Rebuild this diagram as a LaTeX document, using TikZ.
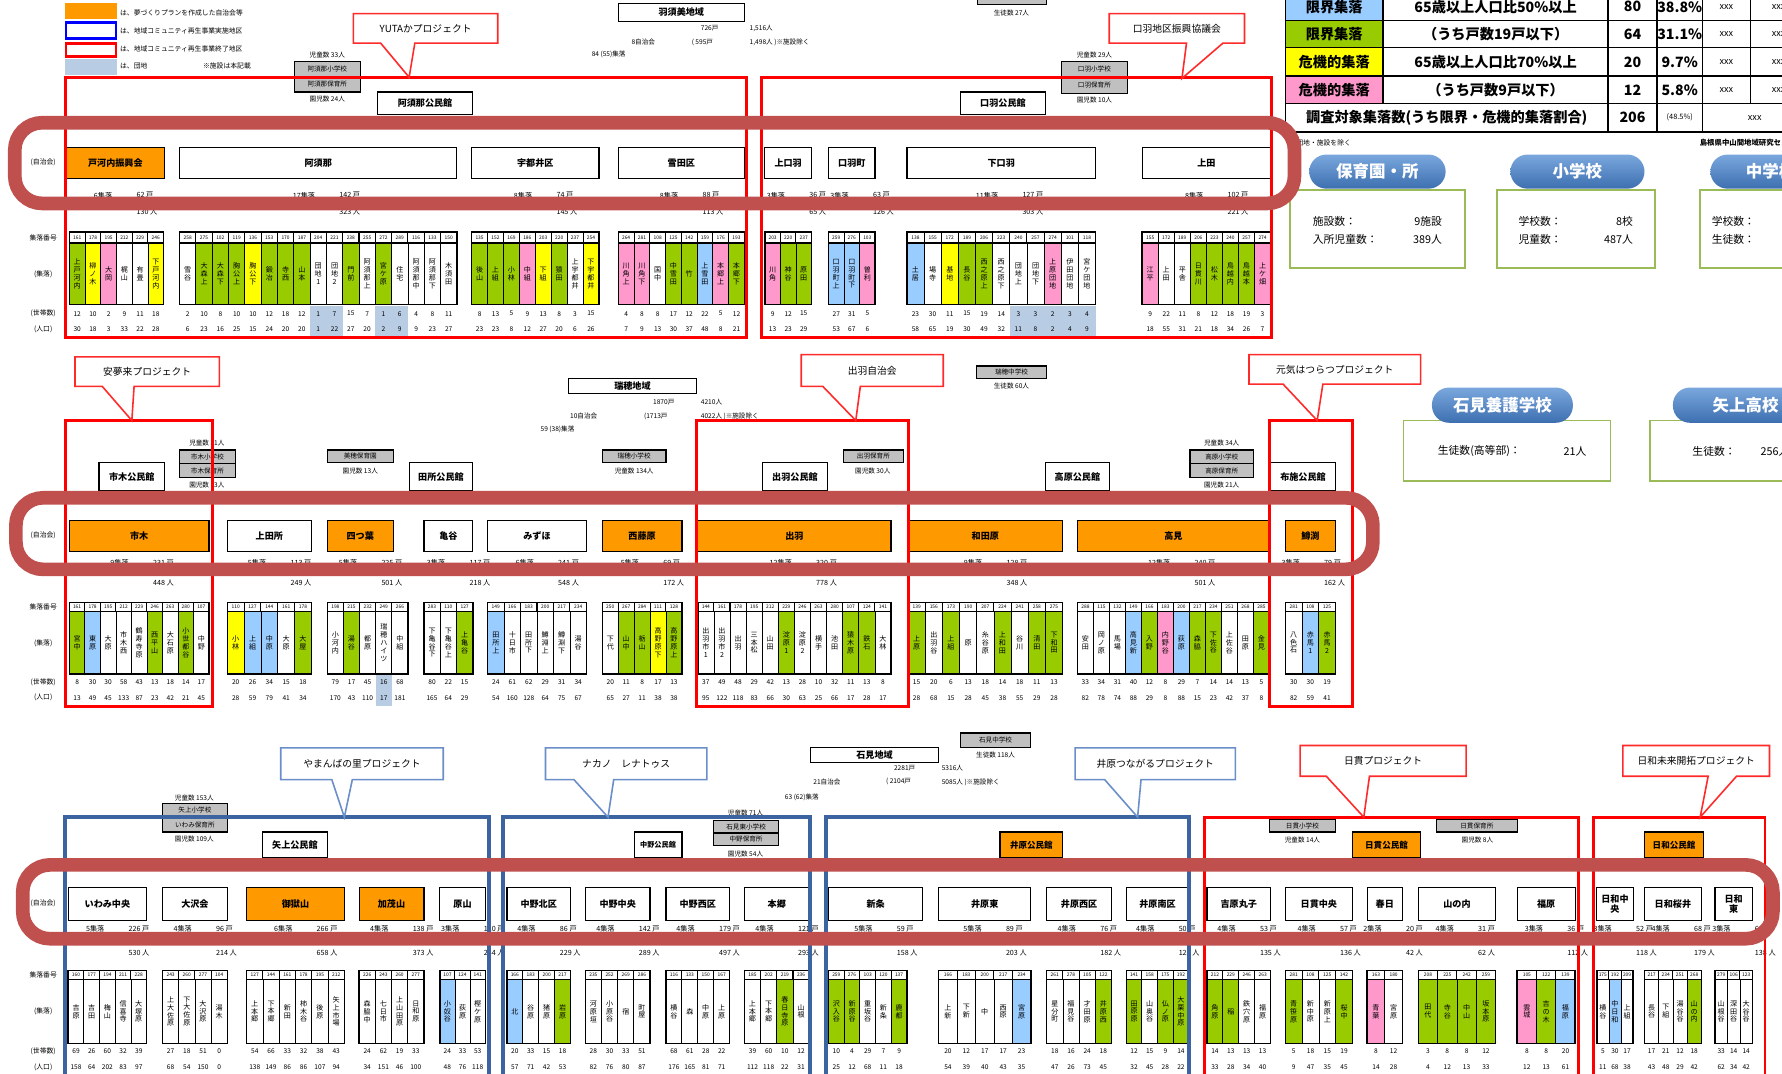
\documentclass[tikz,border=0pt]{standalone}
\usepackage{fontspec}
\setmainfont{Noto Sans CJK JP}
\usetikzlibrary{backgrounds}
\XeTeXlinebreaklocale "ja"
\XeTeXlinebreakskip=0pt plus 1pt
\definecolor{cOr}{HTML}{FF9900}
\definecolor{barG}{HTML}{99CC00}
\definecolor{barY}{HTML}{FFFF00}
\definecolor{barP}{HTML}{FF99CC}
\definecolor{barB}{HTML}{99CCFF}
\definecolor{barH}{HTML}{99CC00}
\definecolor{barQ}{HTML}{FF99CC}
\colorlet{barW}{white}
\colorlet{barD}{white}
\definecolor{numLB}{HTML}{B8CCE4}
\colorlet{numG}{white}\colorlet{numY}{white}\colorlet{numP}{white}
\colorlet{numB}{white}\colorlet{numW}{white}
\colorlet{numD}{numLB}\colorlet{numH}{numLB}\colorlet{numQ}{numLB}
\definecolor{hl}{HTML}{C0504D}
\definecolor{fbl}{HTML}{3B64A0}
\definecolor{cbl}{HTML}{6A8FC8}
\definecolor{cred}{HTML}{FF2A2A}
\definecolor{pillT}{HTML}{7AA7DD}
\definecolor{pillB}{HTML}{3D6FB0}
\definecolor{gbox}{HTML}{9BBB59}
\definecolor{schg}{HTML}{C0C0C0}
\tikzset{
 jw/.style={draw, line width=1.1pt, fill=white, inner sep=1pt, align=center, font=\bfseries\fontsize{8}{9}\selectfont},
 jo/.style={jw, fill=cOr},
 ks/.style={jw, font=\bfseries\fontsize{6.3}{7}\selectfont},
 ko/.style={jo, font=\bfseries\fontsize{7.5}{8}\selectfont},
 sch/.style={draw, line width=1.1pt, fill=schg, inner sep=0pt, font=\fontsize{5.8}{6}\selectfont},
 sm/.style={inner sep=0.5pt, font=\fontsize{5.8}{6}\selectfont},
 lab/.style={inner sep=0.5pt, font=\fontsize{6}{6}\selectfont},
 hdr/.style={inner sep=0pt, font=\fontsize{4.3}{4.3}\selectfont},
 vt/.style={inner sep=0pt, text width=6.6pt, align=center, font=\fontsize{6.2}{6.9}\selectfont},
 num/.style={inner sep=0pt, font=\fontsize{5.8}{6}\selectfont},
 cnt/.style={inner sep=0.5pt, font=\fontsize{6.3}{6.5}\selectfont},
 ln/.style={line width=1pt},
 tg/.style={draw=gray!60, line width=0.6pt, dash pattern=on 2pt off 1pt},
 fr/.style={draw=red, line width=2.6pt},
 fb/.style={draw=fbl, line width=3.5pt},
 cor/.style={draw=cred, line width=1.4pt, fill=white},
 cob/.style={draw=cbl, line width=1.4pt, fill=white},
 cot/.style={inner sep=0pt, font=\fontsize{8.6}{9}\selectfont},
 hlt/.style={draw=hl, line width=12pt, rounded corners=24pt},
 tcl/.style={draw, line width=1.2pt, inner sep=0pt, font=\bfseries\fontsize{12.5}{13}\selectfont},
 tcs/.style={tcl, font=\fontsize{8}{8}\selectfont},
 gb/.style={draw=gbox, line width=1.6pt, fill=white},
 pill/.style={rounded corners=15pt, top color=pillT, bottom color=pillB, draw=none, text=white, inner sep=0pt, font=\bfseries\fontsize{14.5}{15}\selectfont},
 gt/.style={inner sep=0pt, font=\fontsize{9.5}{10}\selectfont},
}
\def\hTa{204}\def\hBa{214}\def\bBa{268}\def\nAa{276}\def\nBa{290}\def\cAa{172}\def\cBa{186}
\def\hTb{530}\def\hBb{538}\def\bBb{593}\def\nAb{600}\def\nBb{614}\def\cAb{495}\def\cBb{513}
\def\hTc{854}\def\hBc{862}\def\bBc{918}\def\nAc{925}\def\nBc{939}\def\cAc{817}\def\cBc{838}
\newcommand\jb[7]{\node[#6, minimum width={#3-(#2)}, minimum height={#5-(#4)}] (#1) at ({(#2+#3)/2},{(#4+#5)/2}) {#7};}
\newcommand\grp[8]{%
 \edef\yT{\csname hT#5\endcsname}\edef\yH{\csname hB#5\endcsname}%
 \edef\yB{\csname bB#5\endcsname}\edef\yNa{\csname nA#5\endcsname}%
 \edef\yNb{\csname nB#5\endcsname}\edef\yCa{\csname cA#5\endcsname}%
 \edef\yCb{\csname cB#5\endcsname}%
 \pgfmathsetmacro\bw{(#3-#2)/#4}%
 \xdef\sumh{0}%
 \foreach \bc/\bn/\bh/\bp [count=\bi from 0] in {#8}{%
  \pgfmathsetmacro\xa{#2+\bi*\bw}%
  \pgfmathsetmacro\xb{\xa+\bw}%
  \pgfmathsetmacro\xm{\xa+0.5*\bw}%
  \pgfmathtruncatemacro\code{100+mod(int(#2)+17*\bi,190)}%
  \pgfmathtruncatemacro\tmp{\sumh+\bh}\xdef\sumh{\tmp}%
  \fill[fill=num\bc] (\xa,\yNa-7) rectangle (\xb,\yNb+7);
  \draw[line width=0.7pt, fill=bar\bc] (\xa,\yH) rectangle (\xb,\yB);
  \draw[line width=0.9pt, fill=white] (\xa,\yT) rectangle (\xb,\yH);
  \node[hdr] (#1-k\bi) at (\xm,{(\yT+\yH)/2}) {\code};
  \node[vt] (#1-n\bi) at (\xm,{(\yH+\yB)/2}) {\bn};
  \node[num] (#1-h\bi) at (\xm,\yNa) {\bh};
  \node[num] (#1-p\bi) at (\xm,\yNb) {\bp};
 }%
 \draw[line width=1.3pt] (#2,\yT) rectangle (#3,\yB);
 \draw[line width=1.3pt] (#2,\yH) -- (#3,\yH);
 \node[cnt,anchor=east] (#1-s) at (#6-2,\yCa) {#4集落};
 \node[cnt,anchor=west] (#1-hh) at (#6+18,\yCa) {\sumh\ 戸};
 \node[cnt,anchor=west] (#1-pp) at (#6+18,\yCb) {#7\ 人};
}
\begin{document}
\begin{tikzpicture}[x=1pt,y=-1pt]
\useasboundingbox (0,0) rectangle (1568,945);
\clip (0,0) rectangle (1568,945);
\fill[white] (0,0) rectangle (1568,945);
% ---------- legend ----------
\fill[cOr] (57,3) rectangle (103,17);
\draw[blue, line width=2.4pt, fill=white] (58,20) rectangle (102,34);
\draw[red, line width=2.4pt, fill=white] (58,38) rectangle (102,50);
\fill[numLB] (57,52) rectangle (103,66);
\node[lab,anchor=west] (lg1) at (105,11) {は、夢づくりプランを作成した自治会等};
\node[lab,anchor=west] (lg2) at (105,27) {は、地域コミュニティ再生事業実施地区};
\node[lab,anchor=west] (lg3) at (105,43) {は、地域コミュニティ再生事業終了地区};
\node[lab,anchor=west] (lg4) at (105,58) {は、団地};
\node[lab,anchor=west] (lg5) at (178,58) {※施設は本記載};
% ---------- left row labels ----------
\foreach \s/\ya/\yb/\yc/\yd/\ye in {a/143/209/241/276/290,b/471/534/566/600/614,c/795/858/890/925/939}{
 \node[lab] (L\s1) at (38,\ya) {(自治会)};
 \node[lab] (L\s2) at (38,\yb) {集落番号};
 \node[lab] (L\s3) at (38,\yc) {(集落)};
 \node[lab] (L\s4) at (38,\yd) {(世帯数)};
 \node[lab] (L\s5) at (38,\ye) {(人口)};
}
% ================= SECTION 1 =================
\jb{r1}{544}{655}{3}{19}{jw}{羽須美地域}
\node[sm,anchor=west] (t1a) at (616,25) {726戸};
\node[sm,anchor=west] (t1b) at (659,25) {1,516人};
\node[sm,anchor=west] (t1c) at (555,37) {8自治会};
\node[sm,anchor=west] (t1d) at (608,37) {( 595戸};
\node[sm,anchor=west] (t1e) at (659,37) {1,498人 )※施設除く};
\node[sm,anchor=west] (t1f) at (520,48) {84 (55)集落};
\jb{k1a}{332}{416}{81}{101}{jw}{阿須那公民館}
\jb{k1b}{845}{920}{81}{101}{jw}{口羽公民館}
\jb{j1a}{58}{145}{130}{157}{jo}{戸河内振興会}
\jb{j1b}{158}{402}{130}{157}{jw}{阿須那}
\jb{j1c}{415}{527}{130}{157}{jw}{宇都井区}
\jb{j1d}{544}{655}{130}{157}{jw}{雪田区}
\jb{j1e}{673}{714}{130}{157}{jw}{上口羽}
\jb{j1f}{729}{770}{130}{157}{jw}{口羽町}
\jb{j1g}{798}{964}{130}{157}{jw}{下口羽}
\jb{j1h}{1005}{1118}{130}{157}{jw}{上田}
\node[sm] (s1t) at (288,48) {児童数 33人};
\jb{s1a}{259}{317}{54}{67}{sch}{阿須那小学校}
\jb{s1b}{259}{317}{67}{81}{sch}{阿須那保育所}
\node[sm] (s1u) at (288,87) {園児数 24人};
\node[sm] (s1v) at (963,48) {児童数 29人};
\jb{s1c}{934}{992}{54}{68}{sch}{口羽小学校}
\jb{s1d}{934}{992}{68}{82}{sch}{口羽保育所}
\node[sm] (s1w) at (963,88) {園児数 10人};
\node[sch, minimum width=61, minimum height=12] (s1e) at (890.5,-2) {};
\node[sm] (s1x) at (890,11) {生徒数 27人};
\grp{g1a}{61}{144}{6}{a}{101.5}{130}{G/上戸河内/12/30,Y/柳ノ木/10/18,P/大岡/2/3,W/梶山/9/33,W/有畳/11/22,Y/下戸河内/18/28}
\grp{g1b}{158}{402}{17}{a}{280}{323}{W/雪谷/2/6,G/大森上/10/23,G/大森下/8/16,G/胸公上/10/25,Y/胸公下/10/15,G/鍛冶/12/24,G/寺西/18/20,G/山本/12/20,D/団地1/1/1,D/団地2/7/22,G/門前/15/27,W/阿須那上/7/20,H/宮ケ原/1/2,D/住宅/6/9,W/阿須那中/4/9,W/阿須那下/8/23,W/木須田/11/27}
\grp{g1c}{415}{527}{8}{a}{471}{145}{G/後山/8/23,G/上組/13/23,G/小林/5/8,P/中組/9/12,Y/下組/13/27,G/猿田/8/20,W/上宇都井/3/6,Y/下宇都井/15/26}
\grp{g1d}{544}{655}{8}{a}{599.5}{113}{P/川角上/4/7,P/川角下/8/9,W/国中/8/13,G/中雪田/17/30,G/竹/12/37,B/上雪田/22/48,P/本郷上/5/8,G/本郷下/12/21}
\grp{g1e}{673}{714}{3}{a}{693.5}{65}{P/川角/9/13,G/神谷/12/23,G/原田/15/29}
\grp{g1f}{729}{770}{3}{a}{749.5}{126}{B/口羽町上/27/53,B/口羽町下/31/67,P/曽利/5/6}
\grp{g1g}{798}{964}{11}{a}{881}{303}{B/土居/23/58,W/場寺/30/65,Y/基地/11/19,G/長谷/15/30,G/西之原上/19/49,W/西之原下/14/32,D/団地上/3/11,D/団地下/3/8,Q/上原団地/2/2,D/伊田団地/3/4,D/宮ケ団地/4/9}
\grp{g1h}{1005}{1118}{8}{a}{1061.5}{221}{P/江平/9/18,W/上田/22/55,W/平舎/11/31,G/日貫川/8/21,G/松木/12/18,G/鳥越内/18/34,G/鳥越本/19/26,P/上ケ畑/3/7}
% ================= SECTION 2 =================
\jb{r2}{500}{613}{333}{346}{jw}{瑞穂地域}
\node[sm,anchor=west] (t2a) at (574,354) {1870戸};
\node[sm,anchor=west] (t2b) at (616,354) {4210人};
\node[sm,anchor=west] (t2c) at (501,366) {10自治会};
\node[sm,anchor=west] (t2d) at (566,366) {(1713戸};
\node[sm,anchor=west] (t2e) at (616,366) {4022人 )※施設除く};
\node[sm,anchor=west] (t2f) at (475,378) {59 (38)集落};
\jb{k2a}{87}{145}{407}{432}{jw}{市木公民館}
\jb{k2b}{360}{416}{407}{432}{jw}{田所公民館}
\jb{k2c}{671}{728}{407}{432}{jw}{出羽公民館}
\jb{k2d}{920}{976}{407}{432}{jw}{高原公民館}
\jb{k2e}{1118}{1175}{407}{432}{jw}{布施公民館}
\jb{j2a}{61}{184}{458}{485}{jo}{市木}
\jb{j2b}{200}{274}{458}{485}{jw}{上田所}
\jb{j2c}{288}{346}{458}{485}{jo}{四つ葉}
\jb{j2d}{373}{416}{458}{485}{jw}{亀谷}
\jb{j2e}{429}{516}{458}{485}{jw}{みずほ}
\jb{j2f}{530}{600}{458}{485}{jo}{西藤原}
\jb{j2g}{614}{784}{458}{485}{jo}{出羽}
\jb{j2h}{799}{935}{458}{485}{jo}{和田原}
\jb{j2i}{948}{1117}{458}{485}{jo}{高見}
\jb{j2j}{1131}{1175}{458}{485}{jo}{鱒渕}
\node[sm] (s2t) at (182,390) {児童数 21人};
\jb{s2a}{158}{207}{396}{408}{sch}{市木小学校}
\jb{s2b}{158}{207}{408}{420}{sch}{市木保育所}
\node[sm] (s2u) at (182,427) {園児数 13人};
\jb{s2c}{288}{346}{396}{407}{sch}{美穂保育園}
\node[sm] (s2v) at (317,414) {園児数 13人};
\jb{s2d}{530}{586}{396}{407}{sch}{瑞穂小学校}
\node[sm] (s2w) at (558,414) {児童数 134人};
\jb{s2e}{859}{921}{322}{333}{sch}{瑞穂中学校}
\node[sm] (s2x) at (890,340) {生徒数 60人};
\jb{s2f}{742}{795}{396}{407}{sch}{出羽保育所}
\node[sm] (s2y) at (768,414) {園児数 30人};
\node[sm] (s2z) at (1075,390) {児童数 34人};
\jb{s2g}{1047}{1103}{396}{408}{sch}{高原小学校}
\jb{s2h}{1047}{1103}{408}{420}{sch}{高原保育所}
\node[sm] (s2q) at (1075,427) {園児数 21人};
\grp{g2a}{61}{184}{9}{b}{116}{448}{G/宮中/8/13,B/東原/30/49,W/大原/30/45,W/市木西/58/133,W/鶴寿寺原/43/87,G/西平山/13/23,W/大石原/18/42,G/小世都谷/14/21,W/中野/17/45}
\grp{g2b}{200}{274}{5}{b}{237}{249}{Y/小林/20/28,B/上組/26/59,B/中原/34/79,W/大原/15/41,G/大屋/18/34}
\grp{g2c}{288}{359}{5}{b}{317}{501}{W/小河内/79/170,G/湯谷/17/43,W/都原/45/110,D/瑞穂ハイツ/16/17,W/中組/68/181}
\grp{g2d}{373}{416}{3}{b}{394.5}{218}{W/下亀谷下/80/165,W/下亀谷上/22/64,G/上亀谷/15/29}
\grp{g2e}{429}{516}{6}{b}{472.5}{548}{B/田所上/24/54,W/十日市/61/160,W/田所下/62/128,W/鱒淵上/29/64,W/鱒淵下/31/75,W/湯谷/34/67}
\grp{g2f}{530}{600}{5}{b}{565}{172}{W/下代/20/65,G/山中/11/27,G/栃山/8/11,Y/高野原下/17/38,G/高野原上/13/38}
\grp{g2g}{614}{784}{12}{b}{699.5}{778}{W/出羽市1/37/95,W/出羽市2/49/122,W/出羽/48/118,W/三本松/29/83,W/山田/42/66,G/淀原1/13/30,W/淀原2/28/63,W/横手/10/25,W/池田/32/66,G/猿木原/11/17,G/鉄石/13/28,W/大林/8/17}
\grp{g2h}{799}{935}{9}{b}{867}{348}{G/上原/15/28,W/出羽谷/20/68,G/上組/6/15,W/原/13/28,W/糸谷原/18/45,G/上和田/14/38,W/谷川/18/55,G/清田/11/29,G/下和田/13/28}
\grp{g2i}{948}{1117}{12}{b}{1032.5}{501}{W/安田/33/82,W/岡ノ原/34/78,W/馬場/31/74,B/高見新/40/88,G/入野/12/29,P/内野谷/8/8,B/荻原/29/88,G/森脇/7/15,G/下佐谷/14/23,W/上佐谷/14/42,W/田原/13/37,G/金見/5/8}
\grp{g2j}{1131}{1175}{3}{b}{1146.5}{162}{W/八色石/30/82,B/赤馬1/30/59,G/赤馬2/19/41}
% ================= SECTION 3 =================
\jb{r3}{713}{826}{658}{671}{jw}{石見地域}
\node[sm,anchor=west] (t3a) at (786,676) {2281戸};
\node[sm,anchor=west] (t3b) at (828,676) {5316人};
\node[sm,anchor=west] (t3c) at (715,688) {21自治会};
\node[sm,anchor=west] (t3d) at (779,688) {( 2104戸};
\node[sm,anchor=west] (t3e) at (828,688) {5085人 )※施設除く};
\node[sm,anchor=west] (t3f) at (690,702) {63 (62)集落};
\jb{k3a}{231}{288}{732}{755}{jw}{矢上公民館}
\jb{k3b}{558}{600}{732}{755}{ks}{中野公民館}
\jb{k3c}{880}{935}{732}{755}{ko}{井原公民館}
\jb{k3d}{1190}{1250}{732}{755}{ko}{日貫公民館}
\jb{k3e}{1447}{1499}{732}{755}{ko}{日和公民館}
\jb{j3a}{60}{129}{781}{810}{jw}{いわみ中央}
\jb{j3b}{143}{200}{781}{810}{jw}{大沢会}
\jb{j3c}{217}{303}{781}{810}{jo}{御獄山}
\jb{j3d}{316}{373}{781}{810}{jo}{加茂山}
\jb{j3e}{387}{427}{781}{810}{jw}{原山}
\jb{j3f}{446}{502}{781}{810}{jw}{中野北区}
\jb{j3g}{515}{572}{781}{810}{jw}{中野中央}
\jb{j3h}{586}{642}{781}{810}{jw}{中野西区}
\jb{j3i}{655}{712}{781}{810}{jw}{本郷}
\jb{j3j}{729}{812}{781}{810}{jw}{新条}
\jb{j3k}{826}{907}{781}{810}{jw}{井原東}
\jb{j3l}{921}{978}{781}{810}{jw}{井原西区}
\jb{j3m}{991}{1046}{781}{810}{jw}{井原南区}
\jb{j3n}{1062}{1118}{781}{810}{jw}{吉原丸子}
\jb{j3o}{1131}{1190}{781}{810}{jw}{日貫中央}
\jb{j3p}{1203}{1234}{781}{810}{jw}{春日}
\jb{j3q}{1248}{1316}{781}{810}{jw}{山の内}
\jb{j3r}{1335}{1386}{781}{810}{jw}{福原}
\jb{j3s}{1405}{1437}{781}{810}{jw}{日和中\\央}
\jb{j3t}{1447}{1497}{781}{810}{jw}{日和桜井}
\jb{j3u}{1509}{1542}{781}{810}{jw}{日和\\東}
\node[sm] (s3t) at (171,702) {児童数 153人};
\jb{s3a}{143}{200}{707}{719}{sch}{矢上小学校}
\jb{s3b}{143}{200}{719}{732}{sch}{いわみ保育所}
\node[sm] (s3u) at (171,738) {園児数 109人};
\node[sm] (s3v) at (656,715) {児童数 71人};
\jb{s3c}{628}{685}{722}{733}{sch}{石見東小学校}
\jb{s3d}{628}{685}{733}{744}{sch}{中野保育所}
\node[sm] (s3w) at (656,751) {園児数 54人};
\jb{s3e}{845}{907}{645}{658}{sch}{石見中学校}
\node[sm] (s3x) at (876,664) {生徒数 118人};
\jb{s3f}{1117}{1175}{721}{732}{sch}{日貫小学校}
\node[sm] (s3y) at (1146,739) {児童数 14人};
\jb{s3g}{1264}{1335}{721}{732}{sch}{日貫保育所}
\node[sm] (s3z) at (1300,739) {園児数 8人};
\grp{g3a}{60}{129}{5}{c}{94.5}{530}{W/吉原/69/158,W/吉田/26/64,W/梅山/60/202,W/信喜寺/32/83,W/大塚原/39/97}
\grp{g3b}{143}{200}{4}{c}{171.5}{214}{W/上大佐原/27/68,W/下大佐原/18/54,W/大沢原/51/150,W/湯木/0/0}
\grp{g3c}{217}{303}{6}{c}{260}{658}{W/上本郷/54/138,W/下本郷/66/149,W/新田/33/86,W/柿木谷/32/86,W/後原/38/107,W/矢上市場/43/94}
\grp{g3d}{316}{373}{4}{c}{344.5}{373}{W/森脇中/24/34,W/七日市/62/151,W/上山田原/19/46,W/日和原/33/100}
\grp{g3e}{387}{427}{3}{c}{407}{244}{B/小奴谷/24/48,W/荻原/33/76,W/樫ケ原/53/118}
\grp{g3f}{446}{502}{4}{c}{474}{229}{B/北/20/57,W/谷原/33/71,W/猪原/15/42,G/岩原/18/53}
\grp{g3g}{515}{572}{4}{c}{543.5}{289}{W/河原垣/28/82,W/小原谷/30/76,W/宿/33/80,W/町屋/51/87}
\grp{g3h}{586}{642}{4}{c}{614}{497}{W/横谷/68/176,W/森/61/165,W/中原/28/81,W/上原/22/71}
\grp{g3i}{655}{712}{4}{c}{683.5}{293}{W/上本郷/39/112,W/下本郷/60/118,G/春日寺原/10/22,W/山根/12/31}
\grp{g3j}{729}{798}{5}{c}{770.5}{158}{G/沢入谷/10/25,G/新原谷/4/12,W/重坂谷/29/68,W/新条/7/11,G/鹿都/9/18}
\grp{g3k}{826}{907}{5}{c}{866.5}{203}{W/上新/20/54,W/下新/12/39,W/中/17/40,W/西原/17/43,B/宮原/23/35}
\grp{g3l}{921}{978}{4}{c}{949.5}{182}{W/星分町/18/47,W/福見谷/16/26,W/才田原/24/73,G/井原西/18/45}
\grp{g3m}{991}{1046}{4}{c}{1018.5}{125}{G/田原原/12/32,W/山奥谷/15/45,G/仏ノ原/9/28,G/大栗中原/14/22}
\grp{g3n}{1062}{1118}{4}{c}{1090}{135}{G/角原/14/33,G/稲/13/28,W/鉄穴原/13/34,W/福原/13/40}
\grp{g3o}{1131}{1190}{4}{c}{1160.5}{136}{G/青笹原/5/9,W/新中原/18/47,W/新原上/15/35,G/桜中/19/45}
\grp{g3p}{1203}{1234}{2}{c}{1218.5}{42}{P/青葉/8/14,W/宮原/12/28}
\grp{g3q}{1248}{1316}{4}{c}{1282}{62}{G/田代/3/4,G/寺谷/8/12,G/中山/8/13,G/坂本原/12/33}
\grp{g3r}{1335}{1386}{3}{c}{1360.5}{112}{P/雲城/8/12,G/吉の木/8/13,B/福原/20/61}
\grp{g3s}{1405}{1437}{3}{c}{1421}{118}{W/横谷/5/11,B/中日和/30/68,W/上組/17/38}
\grp{g3t}{1447}{1497}{4}{c}{1472}{179}{W/長谷/17/43,W/下組/21/48,W/湯谷谷/12/29,G/山の内/18/42}
\grp{g3u}{1509}{1542}{3}{c}{1525.5}{138}{W/山根谷/33/62,W/深田谷/14/34,W/大谷谷/14/42}
% ---------- connectors (behind) ----------
\begin{pgfonlayer}{background}
\coordinate (b1) at (0,56); \coordinate (b1k) at (0,93); \coordinate (h1) at (0,204);
\draw[ln] (r1.south) -- (r1 |- b1);
\draw[ln] (k1a |- b1) -- (k1b |- b1);
\draw[ln] (k1a |- b1) -- (k1a.north);
\draw[ln] (k1b |- b1) -- (k1b.north);
\draw[ln] (j1a |- b1k) -- (j1d |- b1k);
\draw[ln] (j1e |- b1k) -- (j1h |- b1k);
\foreach \j in {j1a,j1b,j1c,j1d,j1e,j1f,j1g,j1h} \draw[ln] (\j |- b1k) -- (\j |- h1);
\coordinate (b2) at (0,383); \coordinate (b2k) at (0,420); \coordinate (h2) at (0,530);
\draw[ln] (r2.south) -- (r2 |- b2);
\draw[ln] (k2a |- b2) -- (k2e |- b2);
\foreach \k in {k2a,k2b,k2c,k2d,k2e} \draw[ln] (\k |- b2) -- (\k.north);
\draw[ln] (k2a.south) -- (k2a |- h2);
\draw[ln] (k2c.south) -- (k2c |- h2);
\draw[ln] (k2e.south) -- (k2e |- h2);
\draw[ln] (j2b |- b2k) -- (j2f |- b2k);
\draw[ln] (j2h |- b2k) -- (j2i |- b2k);
\foreach \j in {j2b,j2c,j2d,j2e,j2f,j2h,j2i} \draw[ln] (\j |- b2k) -- (\j |- h2);
\draw[tg] (k2b |- s2d) -- (s2d.west);
\draw[tg] (s2d.east) -- (k2c |- s2d);
\draw[tg] (k2d |- s2g) -- (k2e |- s2g);
\coordinate (b3) at (0,707); \coordinate (b3k) at (0,745); \coordinate (h3) at (0,854);
\draw[ln] (r3.south) -- (r3 |- b3);
\draw[ln] (k3a |- b3) -- (k3e |- b3);
\foreach \k in {k3a,k3b,k3c,k3d,k3e} \draw[ln] (\k |- b3) -- (\k.north);
\draw[ln] (j3a |- b3k) -- (j3e |- b3k);
\draw[ln] (j3f |- b3k) -- (j3i |- b3k);
\draw[ln] (j3j |- b3k) -- (j3m |- b3k);
\draw[ln] (j3n |- b3k) -- (j3r |- b3k);
\draw[ln] (j3s |- b3k) -- (j3u |- b3k);
\foreach \j in {j3a,j3b,j3c,j3d,j3e,j3f,j3g,j3h,j3i,j3j,j3k,j3l,j3m,j3n,j3o,j3p,j3q,j3r,j3s,j3t,j3u} \draw[ln] (\j |- b3k) -- (\j |- h3);
\draw[tg] (s3a.east) -- (s3a.east -| k3a);
\coordinate (g1) at (171,632); \coordinate (g2) at (1484,632); \coordinate (g3) at (1484,727);
\draw[tg] (s3t.north) -- (g1) -- (g2) -- (g3);
\end{pgfonlayer}
% ---------- frames ----------
\draw[fr] (58,68) rectangle (657,297);
\draw[fr] (670,68) rectangle (1119,297);
\draw[fr] (58,370) rectangle (187,622);
\draw[fr] (613,370) rectangle (799,622);
\draw[fr] (1117,370) rectangle (1190,622);
\draw[fb] (57,719) rectangle (430,960);
\draw[fb] (443,719) rectangle (713,960);
\draw[fb] (727,719) rectangle (1046,960);
\draw[fr] (1060,719) rectangle (1389,960);
\draw[fr] (1402,719) rectangle (1553,960);
% ---------- callouts ----------
\draw[cor] (311,12) -- (438,12) -- (438,38) -- (365,38) -- (360,68) -- (335,38) -- (311,38) -- cycle;
\node[cot] (c1) at (374.5,25) {YUTAかプロジェクト};
\draw[cor] (976,12) -- (1095,12) -- (1095,38) -- (1076,38) -- (1040,69) -- (1044,38) -- (976,38) -- cycle;
\node[cot] (c2) at (1035.5,25) {口羽地区振興協議会};
\draw[cor] (66,314) -- (193,314) -- (193,340) -- (118,340) -- (116,370) -- (90,340) -- (66,340) -- cycle;
\node[cot] (c3) at (129.5,327) {安夢来プロジェクト};
\draw[cor] (705,312) -- (830,312) -- (830,340) -- (757,340) -- (753,370) -- (724,340) -- (705,340) -- cycle;
\node[cot] (c4) at (767.5,326) {出羽自治会};
\draw[cor] (1099,312) -- (1250,312) -- (1250,338) -- (1164,338) -- (1159,370) -- (1129,338) -- (1099,338) -- cycle;
\node[cot] (c5) at (1174.5,325) {元気はつらつプロジェクト};
\draw[cob] (247,658) -- (390,658) -- (390,686) -- (310,686) -- (303,719) -- (292,686) -- (247,686) -- cycle;
\node[cot] (c6) at (318.5,672) {やまんばの里プロジェクト};
\draw[cob] (480,658) -- (622,658) -- (622,686) -- (540,686) -- (535,719) -- (505,686) -- (480,686) -- cycle;
\node[cot] (c7) at (551,672) {ナカノ　レナトゥス};
\draw[cob] (946,658) -- (1087,658) -- (1087,686) -- (1004,686) -- (1001,719) -- (972,686) -- (946,686) -- cycle;
\node[cot] (c8) at (1016.5,672) {井原つながるプロジェクト};
\draw[cor] (1144,656) -- (1290,656) -- (1290,683) -- (1205,683) -- (1200,719) -- (1167,683) -- (1144,683) -- cycle;
\node[cot] (c9) at (1217,669.5) {日貫プロジェクト};
\draw[cor] (1428,656) -- (1557,656) -- (1557,683) -- (1528,683) -- (1496,719) -- (1503,683) -- (1428,683) -- cycle;
\node[cot] (c10) at (1492.5,669.5) {日和未来開拓プロジェクト};
% ---------- table ----------
\jb{t11}{1131}{1217}{-6}{18}{tcl,fill=barB}{限界集落}
\jb{t12}{1217}{1415}{-6}{18}{tcl}{65歳以上人口比50\%以上}
\jb{t13}{1415}{1458}{-6}{18}{tcl}{80}
\jb{t14}{1458}{1498}{-6}{18}{tcl}{38.8\%}
\jb{t15}{1498}{1540}{-6}{18}{tcs}{xxx}
\jb{t16}{1540}{1590}{-6}{18}{tcs}{xxx}
\jb{t21}{1131}{1217}{18}{42}{tcl,fill=barG}{限界集落}
\jb{t22}{1217}{1415}{18}{42}{tcl}{（うち戸数19戸以下）}
\jb{t23}{1415}{1458}{18}{42}{tcl}{64}
\jb{t24}{1458}{1498}{18}{42}{tcl}{31.1\%}
\jb{t25}{1498}{1540}{18}{42}{tcs}{xxx}
\jb{t26}{1540}{1590}{18}{42}{tcs}{xxx}
\jb{t31}{1131}{1217}{42}{67}{tcl,fill=barY}{危機的集落}
\jb{t32}{1217}{1415}{42}{67}{tcl}{65歳以上人口比70\%以上}
\jb{t33}{1415}{1458}{42}{67}{tcl}{20}
\jb{t34}{1458}{1498}{42}{67}{tcl}{9.7\%}
\jb{t35}{1498}{1540}{42}{67}{tcs}{xxx}
\jb{t36}{1540}{1590}{42}{67}{tcs}{xxx}
\jb{t41}{1131}{1217}{67}{91}{tcl,fill=barP}{危機的集落}
\jb{t42}{1217}{1415}{67}{91}{tcl}{（うち戸数9戸以下）}
\jb{t43}{1415}{1458}{67}{91}{tcl}{12}
\jb{t44}{1458}{1498}{67}{91}{tcl}{5.8\%}
\jb{t45}{1498}{1540}{67}{91}{tcs}{xxx}
\jb{t46}{1540}{1590}{67}{91}{tcs}{xxx}
\jb{t51}{1131}{1415}{91}{116}{tcl}{調査対象集落数(うち限界・危機的集落割合)}
\jb{t53}{1415}{1458}{91}{116}{tcl}{206}
\jb{t54}{1458}{1498}{91}{116}{tcs,font=\fontsize{6.5}{7}\selectfont}{(48.5\%)}
\jb{t55}{1498}{1590}{91}{116}{tcs}{xxx}
\node[lab,anchor=west] (n1) at (1134,126) {※団地・施設を除く};
\node[lab,anchor=west,font=\bfseries\fontsize{6.5}{7}\selectfont] (n2) at (1495,126) {島根県中山間地域研究センター};
% ---------- school panels ----------
\jb{gb1}{1135}{1289}{167}{236}{gb}{}
\jb{gb2}{1317}{1456}{167}{236}{gb}{}
\jb{gb3}{1496}{1640}{167}{236}{gb}{}
\jb{gb4}{1235}{1417}{370}{423}{gb}{}
\jb{gb5}{1452}{1640}{370}{423}{gb}{}
\jb{pl1}{1152}{1272}{136}{166}{pill}{保育園・所}
\jb{pl2}{1329}{1447}{136}{166}{pill}{小学校}
\jb{pl3}{1505}{1611}{136}{166}{pill}{中学校}
\jb{pl4}{1260}{1384}{341}{372}{pill}{石見養護学校}
\jb{pl5}{1472}{1600}{341}{372}{pill}{矢上高校}
\node[gt,anchor=west] (q1) at (1155,195) {施設数：};
\node[gt,anchor=east] (q2) at (1269,195) {9施設};
\node[gt,anchor=west] (q3) at (1155,211) {入所児童数：};
\node[gt,anchor=east] (q4) at (1269,211) {389人};
\node[gt,anchor=west] (q5) at (1336,195) {学校数：};
\node[gt,anchor=east] (q6) at (1437,195) {8校};
\node[gt,anchor=west] (q7) at (1336,211) {児童数：};
\node[gt,anchor=east] (q8) at (1437,211) {487人};
\node[gt,anchor=west] (q9) at (1506,195) {学校数：};
\node[gt,anchor=west] (q10) at (1506,211) {生徒数：};
\node[gt,anchor=west] (q11) at (1265,397) {生徒数(高等部)：};
\node[gt,anchor=east] (q12) at (1396,397) {21人};
\node[gt,anchor=west] (q13) at (1489,397) {生徒数：};
\node[gt,anchor=west] (q14) at (1549,397) {256人};
% ---------- highlights ----------
\draw[hlt] (13,108) rectangle (1139,179);
\draw[hlt] (14,438) rectangle (1208,501);
\draw[hlt] (20,761) rectangle (1560,826);
\end{tikzpicture}
\end{document}
